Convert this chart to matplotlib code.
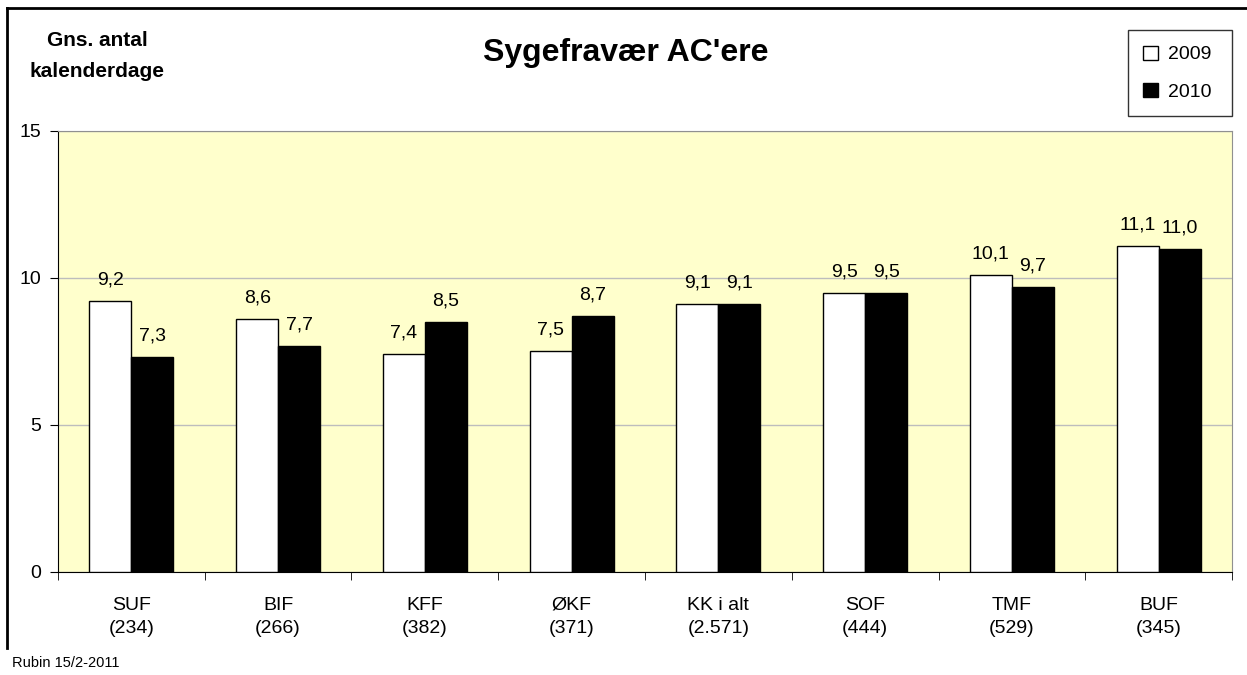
import matplotlib
matplotlib.use("Agg")
import matplotlib.pyplot as plt
from matplotlib.lines import Line2D
import numpy as np

plt.rcParams['font.family'] = ['Liberation Sans', 'DejaVu Sans']

# data
categories = ['SUF\n(234)', 'BIF\n(266)', 'KFF\n(382)', 'ØKF\n(371)',
              'KK i alt\n(2.571)', 'SOF\n(444)', 'TMF\n(529)', 'BUF\n(345)']
values_2009 = [9.2, 8.6, 7.4, 7.5, 9.1, 9.5, 10.1, 11.1]
values_2010 = [7.3, 7.7, 8.5, 8.7, 9.1, 9.5, 9.7, 11.0]
years = ['2009', '2010']
yticks = [0, 5, 10, 15]


def fmt(v):
    return f"{v:.1f}".replace('.', ',')


fig = plt.figure(figsize=(12.47, 6.75), dpi=100)
ax = fig.add_axes([0.0465, 0.1526, 0.9415, 0.6534])
ax.set_facecolor('#FFFFCC')

x = np.arange(len(categories))
w = 0.286
b1 = ax.bar(x - w / 2, values_2009, w, color='white', edgecolor='black', linewidth=1, zorder=3)
b2 = ax.bar(x + w / 2, values_2010, w, color='black', edgecolor='black', linewidth=1, zorder=3)

for bars, vals in [(b1, values_2009), (b2, values_2010)]:
    for bar, v in zip(bars, vals):
        ax.annotate(fmt(v), (bar.get_x() + bar.get_width() / 2, v),
                    xytext=(0, 9), textcoords='offset points',
                    ha='center', va='bottom', fontsize=14)

ax.set_xlim(-0.5, len(categories) - 0.5)
ax.set_ylim(0, 15)
ax.set_yticks(yticks)
ax.set_yticklabels([str(t) for t in yticks], fontsize=14)
ax.yaxis.grid(True, color='#BDBDBD', linewidth=1, zorder=0)
ax.set_axisbelow(True)

# category labels centred, ticks between groups
ax.set_xticks(x)
ax.set_xticklabels(categories, fontsize=14, linespacing=1.45)
ax.tick_params(axis='x', length=0, pad=18)
ax.set_xticks(np.arange(len(categories) + 1) - 0.5, minor=True)
ax.tick_params(axis='x', which='minor', length=6, direction='out', color='black')
ax.tick_params(axis='y', length=6, direction='out', pad=6)

ax.spines['left'].set_color('black')
ax.spines['bottom'].set_color('black')
ax.spines['top'].set_color('#909090')
ax.spines['right'].set_color('#909090')

fig.text(0.502, 0.921, "Sygefravær AC'ere", ha='center', va='center',
         fontsize=23, fontweight='bold')
fig.text(0.078, 0.917, 'Gns. antal\nkalenderdage', ha='center', va='center',
         fontsize=15, fontweight='bold', linespacing=1.75)
fig.text(0.010, 0.018, 'Rubin 15/2-2011', ha='left', va='center', fontsize=10.5)

# outer frame (top and left only visible)
fig.add_artist(Line2D([0.0056, 1.0], [0.988, 0.988], color='black', linewidth=2,
                      transform=fig.transFigure))
fig.add_artist(Line2D([0.0056, 0.0056], [0.040, 0.988], color='black', linewidth=2,
                      transform=fig.transFigure))

handles = [plt.Rectangle((0, 0), 1, 1, facecolor='white', edgecolor='black'),
           plt.Rectangle((0, 0), 1, 1, facecolor='black', edgecolor='black')]
leg = fig.legend(handles, years, loc='upper right', bbox_to_anchor=(0.988, 0.9556),
                 borderaxespad=0, fontsize=14, frameon=True, fancybox=False,
                 edgecolor='black', handlelength=0.75, handleheight=0.75,
                 handletextpad=0.5, labelspacing=1.0, borderpad=0.8)
leg.get_frame().set_linewidth(1)
# stretch the legend box a little to the left, like the original
leg._legend_box.align = 'right'
for t in leg.get_texts():
    t.set_text(t.get_text() + ' ')

fig.savefig('out.png', dpi=100, facecolor='white')
